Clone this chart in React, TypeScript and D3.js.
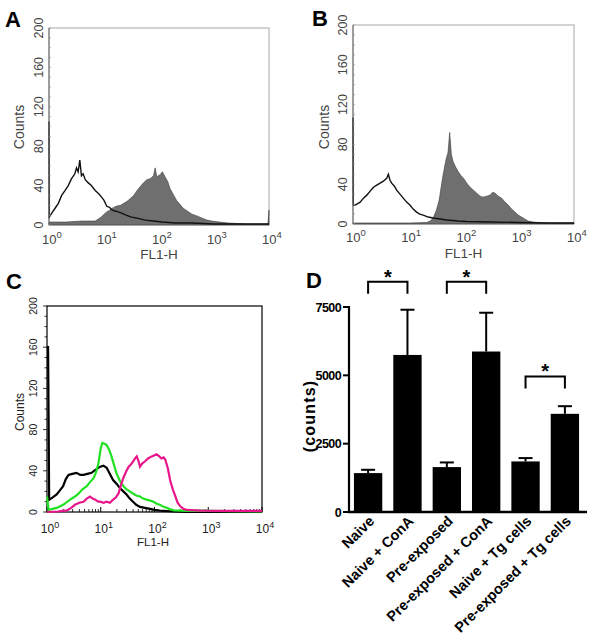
import React from 'react';
import * as d3 from 'd3';

// ---------- DATA ----------
const decadeTicks = [0, 1, 2, 3, 4];
const countTicks = [0, 40, 80, 120, 160, 200];

// Panel A (x = log10 FL1-H, y = counts)
const panelAOpen: [number, number][] = [[0,105],[0.005,8],[0.05,12],[0.11,17],[0.17,22],[0.23,30],[0.29,35],[0.35,40],[0.41,47],[0.47,52],[0.5,58],[0.53,54],[0.56,66],[0.59,50],[0.62,52],[0.66,46],[0.71,43],[0.77,40],[0.84,35],[0.9,32],[0.96,28],[1.0,25],[1.05,19],[1.1,18],[1.15,15],[1.22,14],[1.32,12],[1.4,10],[1.5,8],[1.6,7],[1.75,5],[1.9,4],[2.05,3],[2.3,2],[2.6,2],[3.0,1],[3.5,1],[4.0,1]];
const panelAFilled: [number, number][] = [[0,3],[0.3,3],[0.6,4],[0.84,4],[0.95,8],[1.02,12],[1.1,15],[1.15,17],[1.22,19],[1.3,20],[1.36,22],[1.42,24],[1.48,27],[1.54,30],[1.6,35],[1.66,39],[1.72,43],[1.78,46],[1.84,47],[1.9,50],[1.93,58],[1.96,49],[2.02,51],[2.06,54],[2.11,49],[2.16,44],[2.2,37],[2.26,31],[2.32,25],[2.38,21],[2.44,17],[2.52,14],[2.6,11],[2.7,9],[2.78,7],[2.87,5],[2.96,4],[3.1,3],[3.26,2],[3.6,1],[3.98,1],[4,15]];

// Panel B
const panelBOpen: [number, number][] = [[0,107],[0.005,19],[0.04,19],[0.13,22],[0.19,26],[0.25,29],[0.31,33],[0.37,37],[0.43,39],[0.49,41],[0.55,43],[0.61,46],[0.64,50],[0.67,44],[0.7,41],[0.75,38],[0.79,34],[0.85,30],[0.91,26],[0.97,22],[1.03,19],[1.09,15],[1.15,12],[1.21,10],[1.27,9],[1.36,7],[1.45,6],[1.58,5],[1.7,4],[1.9,3],[2.06,2.5],[2.5,2],[3.0,1.5],[3.5,1],[4,1]];
const panelBFilled: [number, number][] = [[0,1],[1.0,1],[1.33,1.5],[1.4,3],[1.45,6],[1.51,14],[1.56,24],[1.62,46],[1.68,64],[1.72,72],[1.75,92],[1.78,70],[1.81,63],[1.86,57],[1.9,53],[1.95,49],[2.0,46],[2.06,41],[2.12,37],[2.18,34],[2.24,31],[2.3,28],[2.36,27],[2.42,28],[2.48,29],[2.53,32],[2.57,31],[2.63,28],[2.69,26],[2.75,22],[2.81,19],[2.87,15],[2.93,12],[2.99,9],[3.05,7],[3.11,5],[3.17,3],[3.26,2],[3.35,1.5],[3.6,1],[4,1]];

// Panel C
const panelCBlack: [number, number][] = [[0,160],[0.02,160],[0.03,88],[0.04,12],[0.1,14],[0.18,17],[0.24,21],[0.3,25],[0.35,32],[0.4,36],[0.47,37],[0.55,38],[0.62,36],[0.68,36],[0.75,37],[0.83,38],[0.9,41],[0.99,44],[1.05,45],[1.11,43],[1.17,37],[1.23,31],[1.3,27],[1.36,23],[1.42,20],[1.48,17],[1.54,13],[1.6,10],[1.66,7],[1.73,5],[1.82,4],[1.92,3],[2.0,2],[2.1,1.3],[2.36,0.5],[2.6,0],[4,0]];
const panelCGreen: [number, number][] = [[0,15],[0.03,2],[0.1,3],[0.18,4],[0.3,7],[0.43,12],[0.52,15],[0.59,18],[0.66,22],[0.74,25],[0.8,29],[0.87,33],[0.92,40],[0.96,48],[1.0,62],[1.03,67],[1.08,66],[1.11,65],[1.16,60],[1.2,54],[1.25,45],[1.29,38],[1.34,32],[1.39,27],[1.44,24],[1.48,22],[1.54,20],[1.6,18],[1.66,16],[1.73,15],[1.79,13],[1.85,12],[1.92,11],[1.98,10],[2.04,8],[2.1,7],[2.17,5],[2.23,4],[2.3,2.5],[2.36,1.6],[2.6,1],[3.0,1],[3.4,0.8],[4,0.5]];
const panelCMagenta: [number, number][] = [[0,0],[0.2,0.5],[0.37,1.6],[0.45,4],[0.52,7],[0.6,9],[0.68,10],[0.74,13],[0.8,15],[0.85,13],[0.9,12],[0.95,10],[0.99,10],[1.05,9],[1.11,10],[1.17,9],[1.23,12],[1.28,14],[1.33,18],[1.37,25],[1.42,33],[1.47,39],[1.52,44],[1.56,46],[1.6,49],[1.64,52],[1.67,54],[1.7,50],[1.73,44],[1.77,47],[1.82,49],[1.88,52],[1.95,54],[2.0,55],[2.04,56],[2.09,54],[2.13,52],[2.17,53],[2.2,51],[2.25,42],[2.29,31],[2.34,22],[2.39,15],[2.43,9],[2.48,5.5],[2.54,3],[2.6,2],[2.85,1.3],[3.2,1],[3.6,1],[4,1]];

// Panel D
const barCategories = ['Naive', 'Naive + ConA', 'Pre-exposed', 'Pre-exposed + ConA', 'Naive + Tg cells', 'Pre-exposed + Tg cells'];
const barMeans = [1423, 5746, 1643, 5871, 1850, 3592];
const barErrors = [121, 1654, 170, 1419, 123, 279];
const barTicks = [0, 2500, 5000, 7500];
const sigPairs: [number, number, number][] = [[0, 1, 8420], [2, 3, 8420], [4, 5, 4960]];

// ---------- COMPONENTS ----------
type Box = { left: number; right: number; top: number; bottom: number };

function DecadeLabel({ x, y, exp, size, supSize, fill }: any) {
  return (
    <text x={x} y={y} textAnchor="middle" fontSize={size} fill={fill} fontFamily="Liberation Sans, Arial, sans-serif">
      <tspan>10</tspan>
      <tspan fontSize={supSize} dy={-size * 0.45}>{exp}</tspan>
    </text>
  );
}

function FlowPanel({ box, filled, open, labelY, countsX, tickLabelX, xLabelBase, flBase }: any) {
  const x = d3.scaleLinear().domain([0, 4]).range([box.left, box.right]);
  const y = d3.scaleLinear().domain([0, 200]).range([box.bottom, box.top]);
  const area = d3.area<[number, number]>().x(d => x(d[0])).y0(y(0)).y1(d => y(d[1]));
  const line = d3.line<[number, number]>().x(d => x(d[0])).y(d => y(d[1]));
  const minor = d3.range(0, 201, 10);
  const txt = '#444';
  return (
    <g>
      <rect x={box.left} y={box.top} width={box.right - box.left} height={box.bottom - box.top} fill="white" stroke="#a8a8a8" strokeWidth={1} />
      <path d={area(filled) || ''} fill="#6f6f6f" stroke="#3a3a3a" strokeWidth={0.6} />
      <path d={line(open) || ''} fill="none" stroke="#111" strokeWidth={1.4} />
      <line x1={box.left} x2={box.left} y1={box.top} y2={box.bottom} stroke="#666" strokeWidth={1} />
      {minor.map(v => (
        <line key={v} x1={box.left} x2={box.left + 2} y1={y(v)} y2={y(v)} stroke="#999" strokeWidth={0.8} />
      ))}
      {countTicks.map(v => (
        <text key={v} transform={`translate(${tickLabelX},${y(v)}) rotate(-90)`} textAnchor="middle" fontSize={12.5} fill={txt} fontFamily="Liberation Sans, Arial, sans-serif">{v}</text>
      ))}
      {decadeTicks.map(d => (
        <DecadeLabel key={d} x={x(d) + 3} y={xLabelBase} exp={d} size={13} supSize={9.5} fill={txt} />
      ))}
      <text x={(box.left + box.right) / 2} y={flBase} textAnchor="middle" fontSize={13.5} fill={txt} fontFamily="Liberation Sans, Arial, sans-serif">FL1-H</text>
      <text transform={`translate(${countsX},${labelY}) rotate(-90)`} textAnchor="middle" fontSize={14} fill={txt} fontFamily="Liberation Sans, Arial, sans-serif">Counts</text>
    </g>
  );
}

function PanelC() {
  const box: Box = { left: 47, right: 262, top: 306, bottom: 512 };
  const x = d3.scaleLinear().domain([0, 4]).range([box.left, box.right]);
  const y = d3.scaleLinear().domain([0, 200]).range([box.bottom, box.top]);
  const line = d3.line<[number, number]>().x(d => x(d[0])).y(d => y(d[1]));
  const minorY = d3.range(0, 201, 10);
  const minorX: number[] = [];
  decadeTicks.slice(0, 4).forEach(k => { for (let m = 2; m <= 9; m++) minorX.push(k + Math.log10(m)); });
  const ff = 'Liberation Sans, Arial, sans-serif';
  return (
    <g>
      <rect x={box.left} y={box.top} width={box.right - box.left} height={box.bottom - box.top} fill="white" stroke="#000" strokeWidth={1.2} />
      {minorY.map(v => (
        <line key={v} x1={box.left - (v % 40 === 0 ? 4 : 2.5)} x2={box.left} y1={y(v)} y2={y(v)} stroke="#000" strokeWidth={0.8} />
      ))}
      {minorX.map((v, i) => (
        <line key={i} x1={x(v)} x2={x(v)} y1={box.bottom} y2={box.bottom - 3} stroke="#000" strokeWidth={0.8} />
      ))}
      {decadeTicks.map(d => (
        <line key={d} x1={x(d)} x2={x(d)} y1={box.bottom} y2={box.bottom - 5} stroke="#000" strokeWidth={1} />
      ))}
      <path d={line(panelCBlack) || ''} fill="none" stroke="#000" strokeWidth={2.2} />
      <path d={line(panelCGreen) || ''} fill="none" stroke="#22e022" strokeWidth={2.2} />
      <path d={line(panelCMagenta) || ''} fill="none" stroke="#e8168c" strokeWidth={2.2} />
      {countTicks.map(v => (
        <text key={v} transform={`translate(37,${y(v)}) rotate(-90)`} textAnchor="middle" fontSize={10.5} fill="#222" fontFamily={ff}>{v}</text>
      ))}
      {decadeTicks.map(d => (
        <DecadeLabel key={d} x={x(d) + 3} y={533} exp={d} size={12} supSize={9} fill="#222" />
      ))}
      <text x={153} y={546} textAnchor="middle" fontSize={11.5} fill="#222" fontFamily={ff}>FL1-H</text>
      <text transform={`translate(24,412) rotate(-90)`} textAnchor="middle" fontSize={12} fill="#222" fontFamily={ff}>Counts</text>
    </g>
  );
}

function PanelD() {
  const x = d3.scaleBand<string>().domain(barCategories).range([350, 583]).paddingInner(0.28).paddingOuter(0.1);
  const y = d3.scaleLinear().domain([0, 7500]).range([512, 307]);
  const ff = 'Liberation Sans, Arial, sans-serif';
  const cx = (i: number) => (x(barCategories[i]) as number) + x.bandwidth() / 2;
  return (
    <g fontFamily={ff} fontWeight="bold">
      {barCategories.map((c, i) => (
        <g key={c}>
          <line x1={cx(i)} x2={cx(i)} y1={y(barMeans[i])} y2={y(barMeans[i] + barErrors[i])} stroke="#000" strokeWidth={2} />
          <line x1={cx(i) - 7} x2={cx(i) + 7} y1={y(barMeans[i] + barErrors[i])} y2={y(barMeans[i] + barErrors[i])} stroke="#000" strokeWidth={2} />
          <rect x={x(c)} y={y(barMeans[i])} width={x.bandwidth()} height={y(0) - y(barMeans[i])} fill="#000" />
          <text transform={`translate(${cx(i) + 7},${522}) rotate(-45)`} textAnchor="end" fontSize={14.5} fill="#000">{c}</text>
        </g>
      ))}
      <line x1={349} x2={349} y1={y(7500) - 1} y2={y(0) + 1} stroke="#000" strokeWidth={2.2} />
      <line x1={348} x2={587} y1={y(0)} y2={y(0)} stroke="#000" strokeWidth={2.5} />
      {barTicks.map(v => (
        <g key={v}>
          <line x1={343} x2={349} y1={y(v)} y2={y(v)} stroke="#000" strokeWidth={2} />
          <text x={341} y={y(v) + 4.5} textAnchor="end" fontSize={12.5} letterSpacing={-0.6} fill="#000">{v}</text>
        </g>
      ))}
      <text transform="translate(315,416) rotate(-90)" textAnchor="middle" fontSize={16} letterSpacing={1.2} fill="#000">(counts)</text>
      {sigPairs.map(([a, b, v], i) => {
        const top = y(v);
        return (
          <g key={i}>
            <path d={`M${cx(a)},${top + 12}V${top}H${cx(b)}V${top + 12}`} fill="none" stroke="#000" strokeWidth={2} />
            <text x={(cx(a) + cx(b)) / 2} y={top + 2} textAnchor="middle" fontSize={20} fill="#000">*</text>
          </g>
        );
      })}
    </g>
  );
}

export default function App() {
  const ff = 'Liberation Sans, Arial, sans-serif';
  return (
    <svg width={600} height={637} style={{ position: 'absolute', left: 0, top: 0, background: 'white' }}>
      <rect x={0} y={0} width={600} height={637} fill="white" />
      <FlowPanel box={{ left: 49, right: 269, top: 28, bottom: 225 }} filled={panelAFilled} open={panelAOpen}
        labelY={127} countsX={24} tickLabelX={43} xLabelBase={244} flBase={259} />
      <FlowPanel box={{ left: 353, right: 574, top: 25, bottom: 224 }} filled={panelBFilled} open={panelBOpen}
        labelY={127} countsX={329} tickLabelX={347} xLabelBase={242} flBase={258} />
      <PanelC />
      <PanelD />
      <text x={5} y={27} fontSize={22} fontWeight="bold" fontFamily={ff}>A</text>
      <text x={312} y={26} fontSize={22} fontWeight="bold" fontFamily={ff}>B</text>
      <text x={6} y={289} fontSize={22} fontWeight="bold" fontFamily={ff}>C</text>
      <text x={306} y={288} fontSize={22} fontWeight="bold" fontFamily={ff}>D</text>
    </svg>
  );
}
